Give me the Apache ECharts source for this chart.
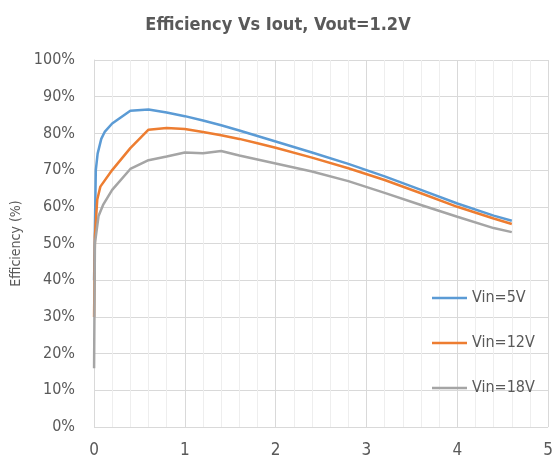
<!DOCTYPE html>
<html>
<head>
<meta charset="utf-8">
<script src="https://cdn.jsdelivr.net/npm/echarts@6/dist/echarts.min.js"></script>
<style>
  html, body { margin: 0; padding: 0; background: #fff; }
  #chart { width: 556px; height: 464px; }
</style>
</head>
<body>
<div id="chart"></div>
<script>
// Iout (A) vs efficiency (%)
var vin5 = [
  [0.001, 40], [0.02, 70], [0.04, 74.5], [0.08, 78.5], [0.12, 80.5], [0.2, 82.7],
  [0.4, 86.2], [0.6, 86.5], [0.8, 85.7], [1.0, 84.7], [1.2, 83.5], [1.4, 82.2],
  [1.6, 80.8], [1.8, 79.3], [2.0, 77.8], [2.4, 74.8], [2.8, 71.7], [3.2, 68.3],
  [3.6, 64.6], [4.0, 60.9], [4.4, 57.6], [4.6, 56.2]
]
var vin12 = [
  [0.001, 30], [0.01, 52], [0.036, 62], [0.07, 65.5], [0.2, 70], [0.4, 76],
  [0.6, 81], [0.8, 81.5], [1.0, 81.2], [1.2, 80.4], [1.4, 79.5], [1.6, 78.5],
  [1.8, 77.3], [2.0, 76.1], [2.4, 73.4], [2.8, 70.5], [3.2, 67.3], [3.6, 63.7],
  [4.0, 60.0], [4.4, 56.8], [4.6, 55.3]
]
var vin18 = [
  [0.001, 16], [0.01, 50], [0.05, 57.5], [0.1, 60.5], [0.2, 64.6], [0.4, 70.3],
  [0.6, 72.7], [0.8, 73.7], [1.0, 74.8], [1.2, 74.6], [1.4, 75.2], [1.6, 74],
  [1.8, 72.9], [2.0, 71.8], [2.4, 69.6], [2.8, 67], [3.2, 63.8], [3.6, 60.5],
  [4.0, 57.3], [4.4, 54.2], [4.6, 53.1]
]
var seriesNames = ['Vin=5V', 'Vin=12V', 'Vin=18V']
var seriesColors = ['#5b9bd5', '#ed7d31', '#a5a5a5']

// condensed face, closest to the narrow font in the original
var font = '"DejaVu Sans Condensed", "DejaVu Sans", sans-serif'
var textColor = '#595959'

var myChart = echarts.init(document.getElementById('chart'))
var data = [vin5, vin12, vin18]

var options = {
  animation: false,
  title: {
    text: 'Efficiency Vs Iout, Vout=1.2V',
    left: 'center',
    top: 11,
    textStyle: { color: textColor, fontFamily: font, fontSize: 18, fontStyle: 'condensed', fontWeight: 'bold' }
  },
  grid: { left: 94, right: 4, top: 60, bottom: 37 },
  legend: {
    orient: 'vertical',
    left: 427,
    top: 285,
    itemGap: 29,
    itemWidth: 35,
    itemHeight: 2.5,
    icon: 'rect',
    textStyle: { color: textColor, fontFamily: font, fontSize: 16, fontStyle: 'condensed' },
    data: seriesNames
  },
  xAxis: {
    type: 'value',
    min: 0,
    max: 5,
    interval: 1,
    axisLine: { show: false },
    axisTick: { show: false },
    axisLabel: { color: textColor, fontFamily: font, fontSize: 17, fontStyle: 'condensed', margin: 15 },
    splitLine: { show: true, lineStyle: { color: '#d9d9d9' } },
    minorTick: { show: false, splitNumber: 5 },
    minorSplitLine: { show: true, lineStyle: { color: '#eeeeee' } }
  },
  yAxis: {
    type: 'value',
    min: 0,
    max: 100,
    interval: 10,
    name: 'Efficiency (%)',
    nameLocation: 'middle',
    nameGap: 67,
    nameTextStyle: { color: textColor, fontFamily: font, fontSize: 14, fontStyle: 'condensed' },
    axisLine: { show: true, lineStyle: { color: '#d9d9d9' } },
    axisTick: { show: false },
    axisLabel: { color: textColor, fontFamily: font, fontSize: 16, fontStyle: 'condensed', margin: 19, formatter: '{value}%' },
    splitLine: { show: true, lineStyle: { color: '#d9d9d9' } }
  },
  series: data.map(function (d, i) {
    return {
      name: seriesNames[i],
      type: 'line',
      data: d,
      symbol: 'none',
      color: seriesColors[i],
      lineStyle: { width: 2.5, color: seriesColors[i] }
    }
  })
}
myChart.setOption(options)
window.addEventListener('resize', myChart.resize)
</script>
</body>
</html>
